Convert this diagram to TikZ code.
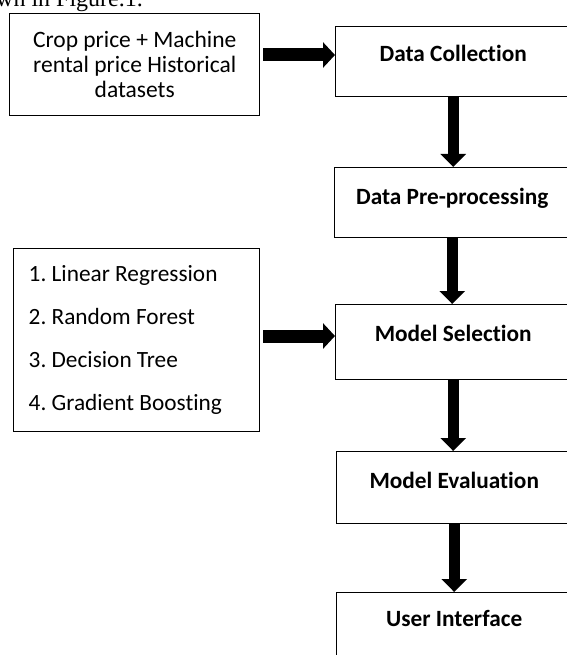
\documentclass[tikz,border=0pt]{standalone}
\usepackage{fontspec}
\setmainfont{Carlito}[Ligatures={NoCommon}]
\newfontfamily\serifface{Liberation Serif}
\usetikzlibrary{arrows.meta}
\frenchspacing
\begin{document}
\begin{tikzpicture}[x=1pt,y=-1pt,
  box/.style={draw=black, line width=1.4pt, fill=white, inner sep=0pt},
  stage/.style={box, anchor=north west, minimum width=235pt, align=flush center,
    font=\fontsize{23.3}{24}\selectfont\bfseries},
  hblk/.style={line width=13pt, -{Triangle[width=25pt,length=12pt]}, shorten <=3pt},
  vblk/.style={line width=11pt, -{Triangle[width=25pt,length=13pt]}},
]
\useasboundingbox (0,0) rectangle (566,655);

% cut-off running text at the top
\node[anchor=base west, inner sep=0pt, font=\serifface\fontsize{24}{24}\selectfont] (frag) at (-4,7) {wn in Figure.1.};

% left boxes
\node[box, anchor=north west, minimum width=250pt, minimum height=102pt, align=flush center,
  font=\fontsize{23.5}{25}\selectfont] (src) at (9,13)
  {Crop price + Machine\\rental price Historical\\datasets};

\node[box, anchor=north west, inner xsep=15pt, text width=216pt, minimum height=183pt, align=flush left,
  font=\fontsize{23.3}{43}\selectfont] (list) at (13,248)
  {1. Linear Regression\\2. Random Forest\\3. Decision Tree\\4. Gradient Boosting};

% right column
\node[stage, text height=34.5pt, text depth=35.5pt] (dc) at (335,26) {Data Collection};
\node[stage, text height=36.5pt, text depth=33.5pt] (dp) at (334,167) {Data Pre-processing};
\node[stage, text height=36.5pt, text depth=38.5pt] (ms) at (335,304) {Model Selection};
\node[stage, text height=36.5pt, text depth=35.5pt] (me) at (336,451) {Model Evaluation};
\node[stage, text height=33.5pt, text depth=60pt] (ui) at (336,592) {User Interface};

% connectors
\draw[hblk] (src.east |- 0,55) -- (dc.west |- 0,55);
\draw[hblk] (list.east |- 0,336) -- (ms.west |- 0,336);
\draw[vblk] (dc.south) -- (dc.south |- dp.north);
\draw[vblk] (dp.south) -- (dp.south |- ms.north);
\draw[vblk] (ms.south) -- (ms.south |- me.north);
\draw[vblk] (me.south) -- (me.south |- ui.north);
\end{tikzpicture}
\end{document}
